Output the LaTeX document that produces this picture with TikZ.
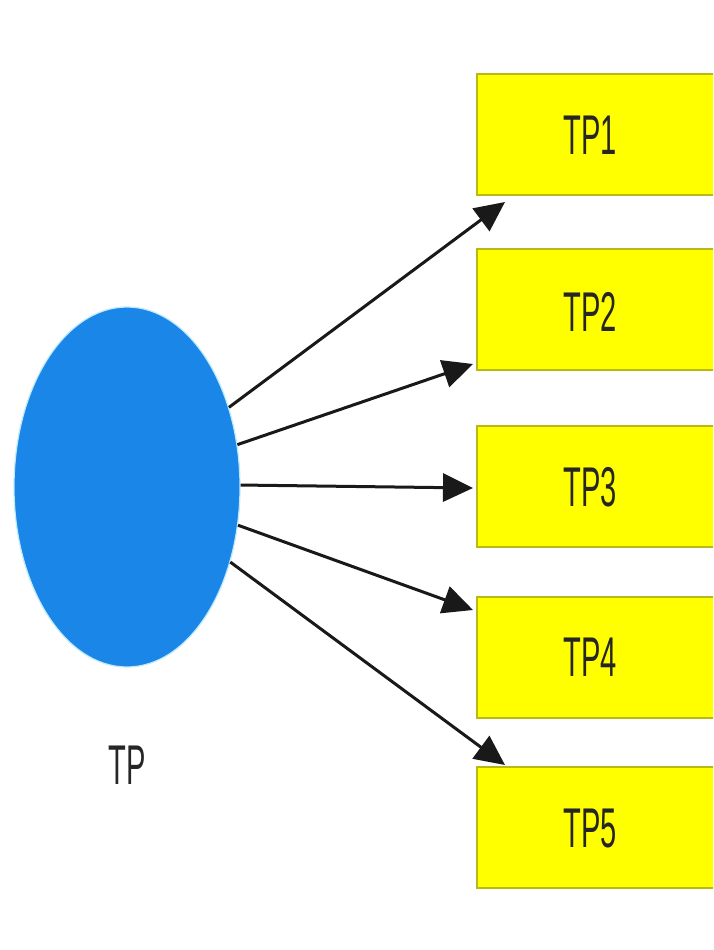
\documentclass[tikz,border=0pt]{standalone}
\usepackage{fontspec}
\setmainfont{Liberation Sans}
\usepackage{graphicx}
\usetikzlibrary{arrows.meta,shapes.geometric,calc}
\definecolor{boxfill}{RGB}{255,255,0}
\definecolor{boxline}{RGB}{185,185,20}
\definecolor{tpblue}{RGB}{26,135,232}
\newcommand{\narrow}[1]{\scalebox{0.52}[1]{#1}}
\tikzset{
  tpbox/.style={rectangle, draw=boxline, fill=boxfill, line width=2pt, minimum width=240pt, minimum height=121pt, inner sep=0pt, anchor=north west},
  lbl/.style={font=\fontsize{56}{60}\selectfont, text=black!85},
  arr/.style={line width=3pt, -{Triangle[length=30pt,width=28pt]}, black!90}
}
\begin{document}
\begin{tikzpicture}[x=1pt,y=-1pt]
\useasboundingbox (0,0) rectangle (713,950);
\clip (0,0) rectangle (713,950);
\fill[white] (0,0) rectangle (713,950);
\node[tpbox] (b1) at (476,73) {};
\node[tpbox] (b2) at (476,248) {};
\node[tpbox] (b3) at (476,425) {};
\node[tpbox] (b4) at (476,596) {};
\node[tpbox] (b5) at (476,766) {};
\node[lbl] (t1) at (590,135) {\narrow{TP1}};
\node[lbl] (t2) at (590,312) {\narrow{TP2}};
\node[lbl] (t3) at (590,487) {\narrow{TP3}};
\node[lbl] (t4) at (590,657) {\narrow{TP4}};
\node[lbl] (t5) at (590,828) {\narrow{TP5}};
\node[ellipse, fill=tpblue, draw=cyan!25, line width=1.2pt, minimum width=226pt, minimum height=360pt, inner sep=0pt] (tp) at (127,487) {};
\node[lbl] (tpl) at (127,765) {\narrow{TP}};
\coordinate (e1) at (505,202);
\coordinate (e2) at (473,364);
\coordinate (e3) at (473,488);
\coordinate (e4) at (473,610);
\coordinate (e5) at (505,765);
\draw[arr] (tp.38) -- (e1);
\draw[arr] (tp.21) -- (e2);
\draw[arr] (tp.1) -- (e3);
\draw[arr] (tp.-19) -- (e4);
\draw[arr] (tp.-36) -- (e5);
\end{tikzpicture}
\end{document}
